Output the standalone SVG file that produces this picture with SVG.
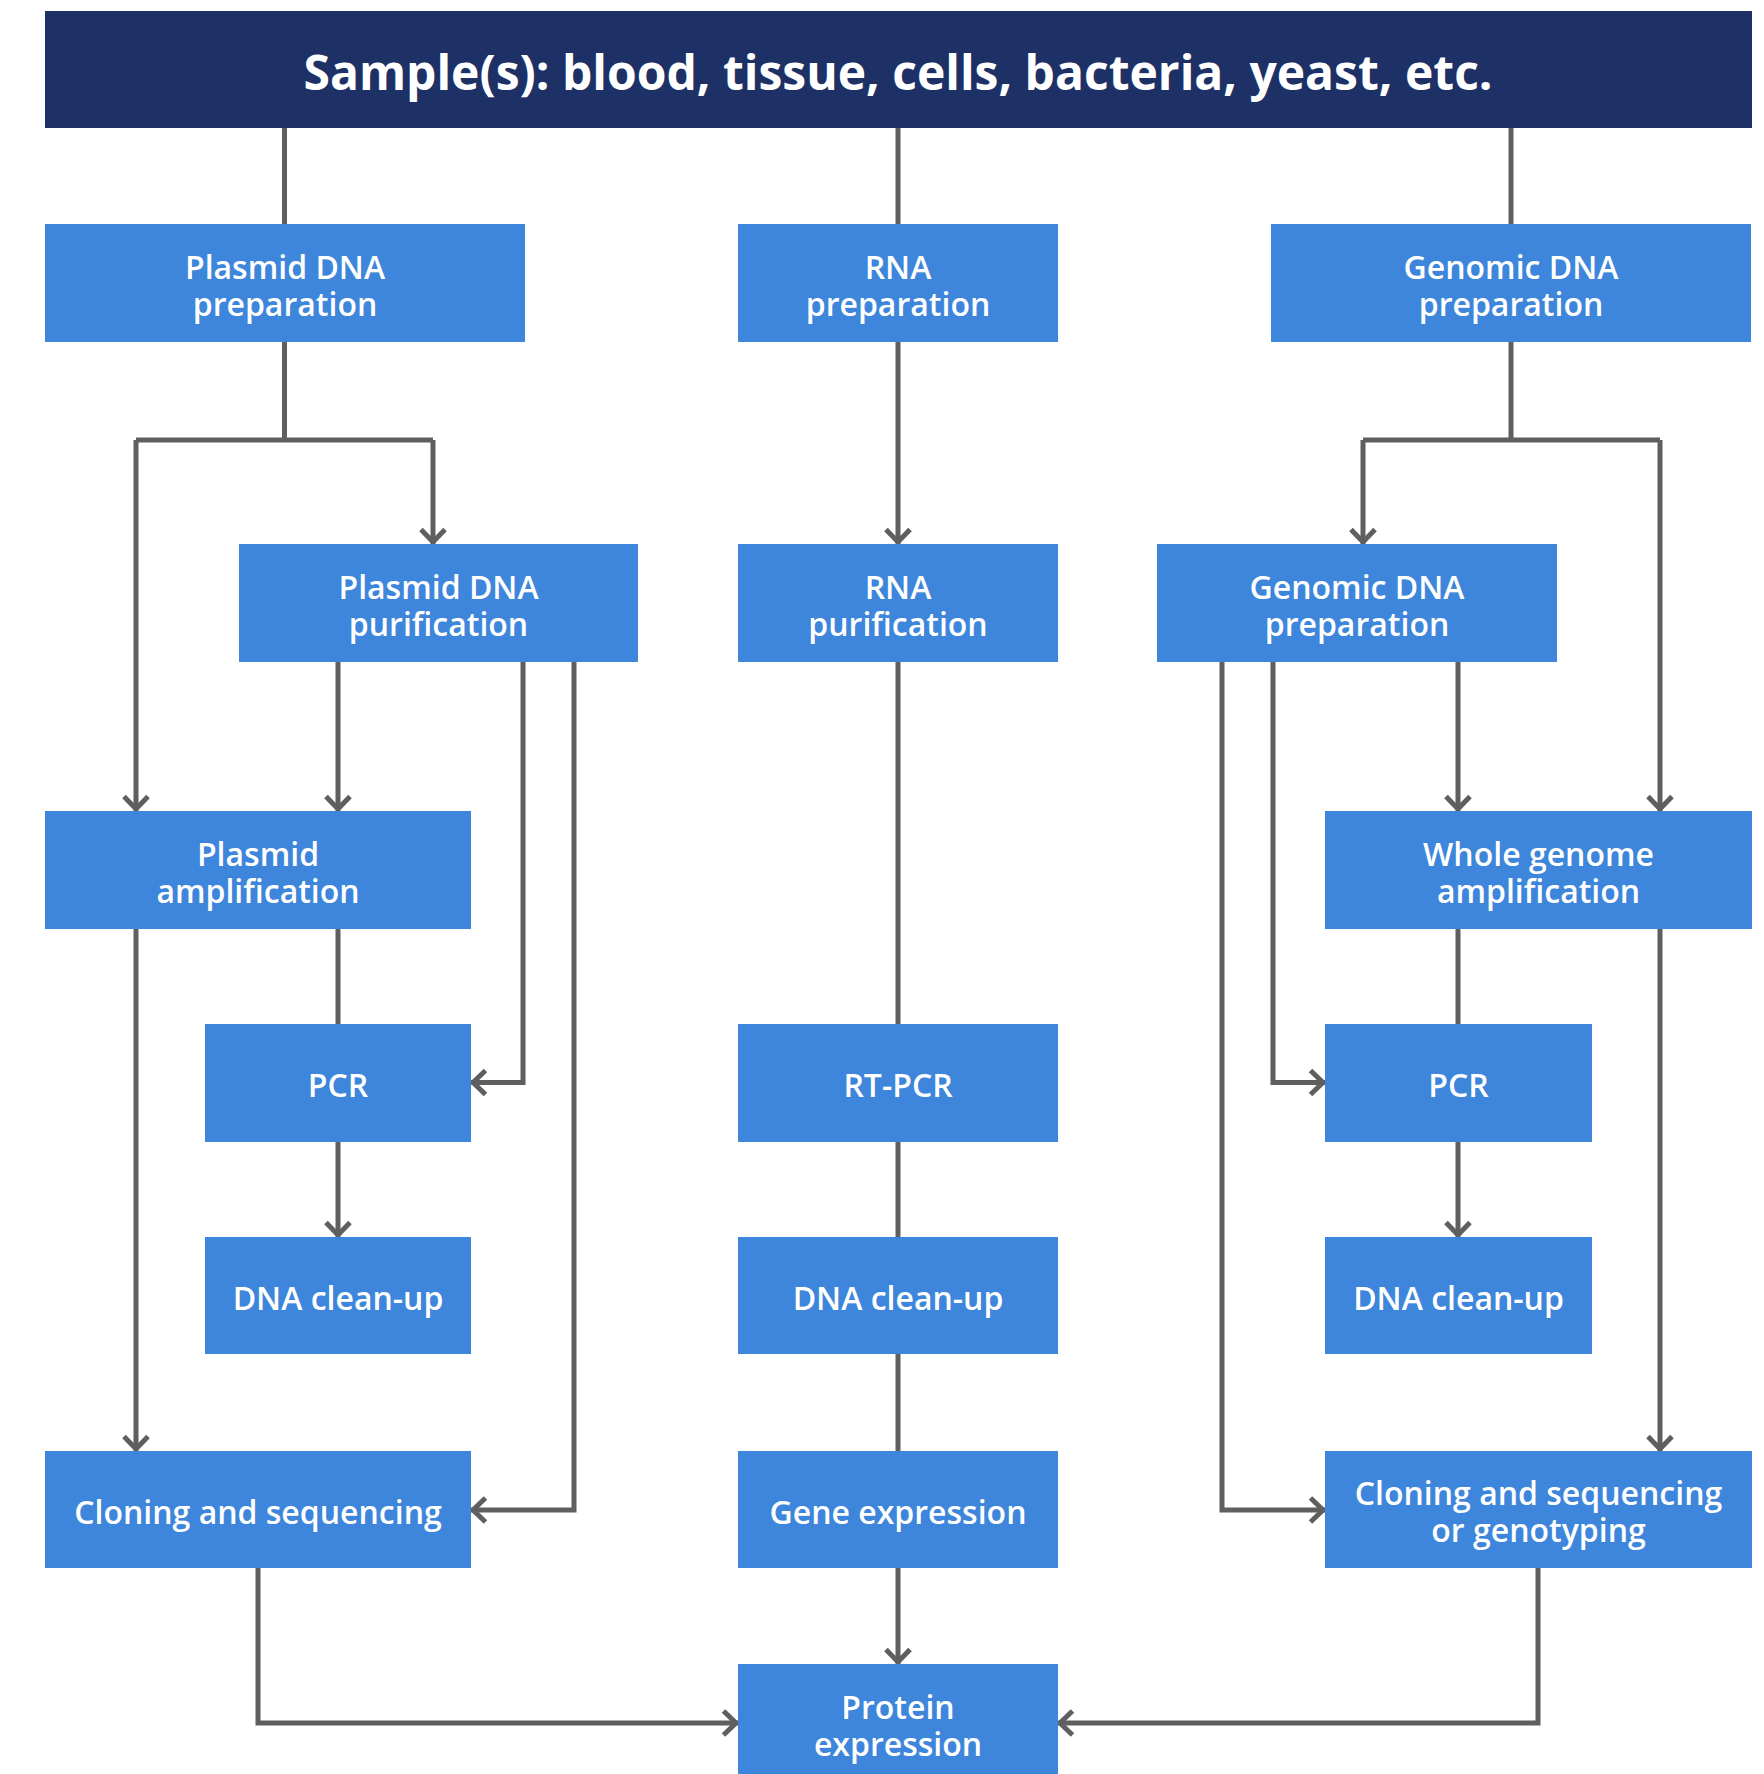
<svg xmlns="http://www.w3.org/2000/svg" width="1764" height="1774" viewBox="0 0 1764 1774">
<style>
.box{fill:#3d86db}
.hdr{fill:#1d3166}
.t{font-family:"Open Sans","Liberation Sans",Arial,sans-serif;font-weight:600;font-size:32px;fill:#ffffff;text-anchor:middle}
.ht{font-family:"Open Sans","Liberation Sans",Arial,sans-serif;font-weight:700;font-size:48px;fill:#ffffff;text-anchor:middle}
.c{fill:none;stroke:#5f5f5f;stroke-width:5;stroke-linejoin:miter}
</style>
<defs>
<marker id="arr" markerUnits="userSpaceOnUse" viewBox="-20 -20 30 40" markerWidth="30" markerHeight="40" refX="2" refY="0" orient="auto">
<path d="M-12.5,-12 L0,0 L-12.5,12" fill="none" stroke="#5f5f5f" stroke-width="5"/>
</marker>
</defs>
<rect width="1764" height="1774" fill="#ffffff"/>
<g id="connectors">
<path class="c" d="M284.5,128 V224"/>
<path class="c" d="M898,128 V224"/>
<path class="c" d="M1511,128 V224"/>
<path class="c" d="M284.5,342 V440"/>
<path class="c" d="M136,440 H433"/>
<path class="c" d="M136,440 V811" marker-end="url(#arr)"/>
<path class="c" d="M433,440 V544" marker-end="url(#arr)"/>
<path class="c" d="M338,662 V811" marker-end="url(#arr)"/>
<path class="c" d="M523,662 V1082.5 H471" marker-end="url(#arr)"/>
<path class="c" d="M574,662 V1510 H471" marker-end="url(#arr)"/>
<path class="c" d="M338,929 V1024"/>
<path class="c" d="M136,929 V1451" marker-end="url(#arr)"/>
<path class="c" d="M338,1142 V1237" marker-end="url(#arr)"/>
<path class="c" d="M258,1567 V1723 H738" marker-end="url(#arr)"/>
<path class="c" d="M898,342 V544" marker-end="url(#arr)"/>
<path class="c" d="M898,662 V1024"/>
<path class="c" d="M898,1142 V1237"/>
<path class="c" d="M898,1354 V1451"/>
<path class="c" d="M898,1568 V1664" marker-end="url(#arr)"/>
<path class="c" d="M1511,342 V440"/>
<path class="c" d="M1363,440 H1660"/>
<path class="c" d="M1363,440 V544" marker-end="url(#arr)"/>
<path class="c" d="M1660,440 V811" marker-end="url(#arr)"/>
<path class="c" d="M1458,662 V811" marker-end="url(#arr)"/>
<path class="c" d="M1273,662 V1082.5 H1325" marker-end="url(#arr)"/>
<path class="c" d="M1222,662 V1510 H1325" marker-end="url(#arr)"/>
<path class="c" d="M1458,929 V1024"/>
<path class="c" d="M1660,929 V1451" marker-end="url(#arr)"/>
<path class="c" d="M1458,1142 V1237" marker-end="url(#arr)"/>
<path class="c" d="M1538,1567 V1723 H1058" marker-end="url(#arr)"/>
</g>
<g id="header">
<rect class="hdr" x="45" y="11" width="1707" height="117"/>
<text class="ht" x="898" y="90">Sample(s): blood, tissue, cells, bacteria, yeast, etc.</text>
</g>
<g id="plasmid-prep">
<rect class="box" x="45" y="224" width="480" height="118"/>
<text class="t" x="285" y="279">Plasmid DNA</text>
<text class="t" x="285" y="316">preparation</text>
</g>
<g id="rna-prep">
<rect class="box" x="738" y="224" width="320" height="118"/>
<text class="t" x="898" y="279">RNA</text>
<text class="t" x="898" y="316">preparation</text>
</g>
<g id="genomic-prep">
<rect class="box" x="1271" y="224" width="480" height="118"/>
<text class="t" x="1511" y="279">Genomic DNA</text>
<text class="t" x="1511" y="316">preparation</text>
</g>
<g id="plasmid-purification">
<rect class="box" x="239" y="544" width="399" height="118"/>
<text class="t" x="438.5" y="599">Plasmid DNA</text>
<text class="t" x="438.5" y="636">purification</text>
</g>
<g id="rna-purification">
<rect class="box" x="738" y="544" width="320" height="118"/>
<text class="t" x="898" y="599">RNA</text>
<text class="t" x="898" y="636">purification</text>
</g>
<g id="genomic-prep-2">
<rect class="box" x="1157" y="544" width="400" height="118"/>
<text class="t" x="1357" y="599">Genomic DNA</text>
<text class="t" x="1357" y="636">preparation</text>
</g>
<g id="plasmid-amplification">
<rect class="box" x="45" y="811" width="426" height="118"/>
<text class="t" x="258" y="866">Plasmid</text>
<text class="t" x="258" y="903">amplification</text>
</g>
<g id="wga">
<rect class="box" x="1325" y="811" width="427" height="118"/>
<text class="t" x="1538.5" y="866">Whole genome</text>
<text class="t" x="1538.5" y="903">amplification</text>
</g>
<g id="pcr-left">
<rect class="box" x="205" y="1024" width="266" height="118"/>
<text class="t" x="338" y="1097">PCR</text>
</g>
<g id="rt-pcr">
<rect class="box" x="738" y="1024" width="320" height="118"/>
<text class="t" x="898" y="1097">RT-PCR</text>
</g>
<g id="pcr-right">
<rect class="box" x="1325" y="1024" width="267" height="118"/>
<text class="t" x="1458.5" y="1097">PCR</text>
</g>
<g id="cleanup-left">
<rect class="box" x="205" y="1237" width="266" height="117"/>
<text class="t" x="338" y="1310">DNA clean-up</text>
</g>
<g id="cleanup-center">
<rect class="box" x="738" y="1237" width="320" height="117"/>
<text class="t" x="898" y="1310">DNA clean-up</text>
</g>
<g id="cleanup-right">
<rect class="box" x="1325" y="1237" width="267" height="117"/>
<text class="t" x="1458.5" y="1310">DNA clean-up</text>
</g>
<g id="cloning-left">
<rect class="box" x="45" y="1451" width="426" height="117"/>
<text class="t" x="258" y="1524">Cloning and sequencing</text>
</g>
<g id="gene-expression">
<rect class="box" x="738" y="1451" width="320" height="117"/>
<text class="t" x="898" y="1524">Gene expression</text>
</g>
<g id="cloning-right">
<rect class="box" x="1325" y="1451" width="427" height="117"/>
<text class="t" x="1538.5" y="1505">Cloning and sequencing</text>
<text class="t" x="1538.5" y="1542">or genotyping</text>
</g>
<g id="protein-expression">
<rect class="box" x="738" y="1664" width="320" height="110"/>
<text class="t" x="898" y="1719">Protein</text>
<text class="t" x="898" y="1756">expression</text>
</g>
</svg>
